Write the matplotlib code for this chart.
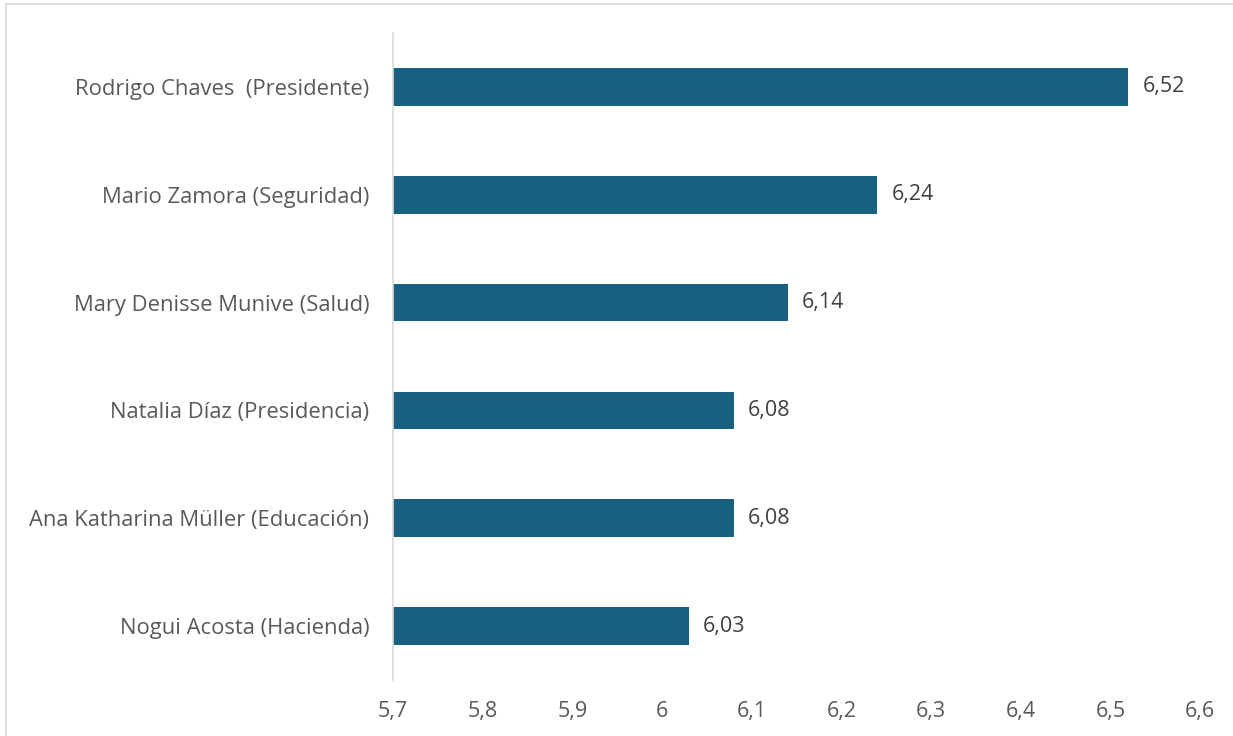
import matplotlib.pyplot as plt
from matplotlib.patches import Rectangle

plt.rcParams['font.family'] = ['Open Sans', 'DejaVu Sans']

names = [
    "Rodrigo Chaves  (Presidente)",
    "Mario Zamora (Seguridad)",
    "Mary Denisse Munive (Salud)",
    "Natalia Díaz (Presidencia)",
    "Ana Katharina Müller (Educación)",
    "Nogui Acosta (Hacienda)",
]
scores = [6.52, 6.24, 6.14, 6.08, 6.08, 6.03]
xticks = [5.7, 5.8, 5.9, 6.0, 6.1, 6.2, 6.3, 6.4, 6.5, 6.6]

bar_color = "#17607F"
text_color = "#595959"

fig = plt.figure(figsize=(12.33, 7.36), dpi=100)
ax = fig.add_axes([393 / 1233, 1 - 680 / 736, (1200 - 393) / 1233, (680 - 33) / 736])

# light frame around the chart area
fig.patches.append(Rectangle((6 / 1233, -0.01), 1.0, 1 - 4 / 736 + 0.01,
                             transform=fig.transFigure, fill=False,
                             edgecolor="#D9D9D9", linewidth=1.2))

ypos = list(range(len(names)))[::-1]
ax.barh(ypos, scores, height=0.35, color=bar_color, left=0)
for y, v in zip(ypos, scores):
    ax.text(v + 0.016, y, f"{v:.2f}".replace(".", ","), va="center", ha="left",
            fontsize=15.5, color="#404040")

ax.set_xlim(5.7, 6.6)
ax.set_ylim(-0.5, len(names) - 0.5)
ax.set_yticks(ypos)
ax.set_yticklabels(names, fontsize=15.8, color=text_color)
ax.set_xticks(xticks)
ax.set_xticklabels([f"{t:g}".replace(".", ",") for t in xticks], fontsize=15.5, color=text_color)
ax.tick_params(axis="both", length=0)
ax.tick_params(axis="x", pad=15)
ax.tick_params(axis="y", pad=17)

for s in ["top", "right", "bottom"]:
    ax.spines[s].set_visible(False)
ax.spines["left"].set_color("#D9D9D9")
ax.spines["left"].set_linewidth(1.2)

fig.savefig("out.png", dpi=100)
